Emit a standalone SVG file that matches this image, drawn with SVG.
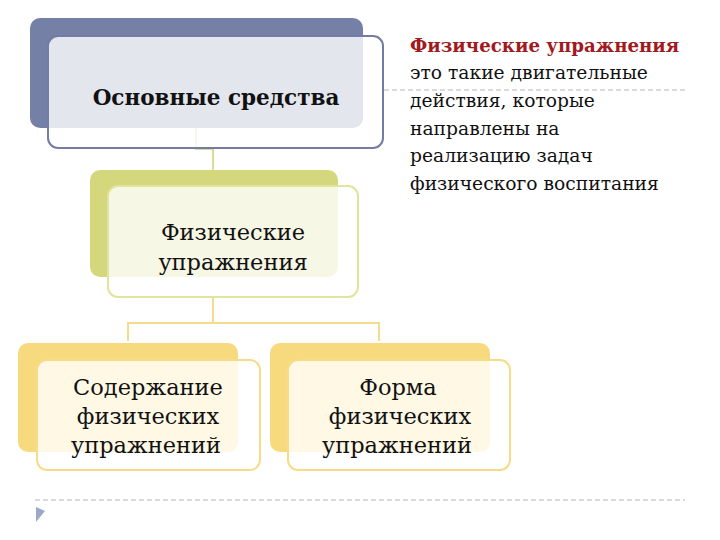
<svg xmlns="http://www.w3.org/2000/svg" width="720" height="540" viewBox="0 0 720 540">
<style>
.front{fill:#ffffff;fill-opacity:0.8;stroke-width:2}
.lbl{font-family:"DejaVu Serif","Liberation Serif",serif;font-size:22.5px;fill:#111111;text-anchor:middle}
.bold{font-weight:bold;font-size:21.5px}
.side{font-family:"DejaVu Serif","Liberation Serif",serif;font-size:18.7px;fill:#111111}
.red{fill:#a01a1e;font-weight:bold;font-size:18.2px}
.conn{fill:none;stroke-width:2}
</style>
<rect width="720" height="540" fill="#ffffff"/>
<g id="guides">
<line x1="384" y1="90" x2="685" y2="90" stroke="#b4b4b4" stroke-width="1" stroke-dasharray="5,3"/>
<line x1="35" y1="500" x2="685" y2="500" stroke="#b4b4b4" stroke-width="1" stroke-dasharray="5,3"/>
<polygon points="36,507 45,511 36,522" fill="#9aaac6"/>
</g>
<g id="connectors">
<path class="conn" d="M196,128 V149 H213 V170" stroke="#d9dc92"/>
<path class="conn" d="M213,297 V323 M128,341 V323 H379 V341" stroke="#f5dc8a"/>
</g>
<g id="node-main">
<rect x="30" y="18" width="333" height="110" rx="10" fill="#7580a6"/>
<rect class="front" x="48" y="36" width="335" height="112" rx="10" stroke="#737ca2"/>
<text class="lbl bold" x="216" y="105">Основные средства</text>
</g>
<g id="node-exercise">
<rect x="90" y="170" width="248" height="107" rx="10" fill="#d4d77c"/>
<rect class="front" x="108" y="186" width="250" height="111" rx="10" stroke="#e1e49c"/>
<text class="lbl" x="233" y="240">Физические</text>
<text class="lbl" x="233" y="270">упражнения</text>
</g>
<g id="node-content">
<rect x="18" y="343" width="220" height="109" rx="10" fill="#f8da7e"/>
<rect class="front" x="37" y="360" width="223" height="110" rx="10" stroke="#f6dc88"/>
<text class="lbl" x="148" y="395">Содержание</text>
<text class="lbl" x="148" y="424">физических</text>
<text class="lbl" x="146" y="453">упражнений</text>
</g>
<g id="node-form">
<rect x="270" y="343" width="220" height="109" rx="10" fill="#f8da7e"/>
<rect class="front" x="288" y="360" width="222" height="110" rx="10" stroke="#f6dc88"/>
<text class="lbl" x="398" y="395">Форма</text>
<text class="lbl" x="400" y="424">физических</text>
<text class="lbl" x="397" y="453">упражнений</text>
</g>
<g id="definition">
<text class="side red" x="410" y="52">Физические упражнения</text>
<text class="side" x="410" y="79">это такие двигательные</text>
<text class="side" x="410" y="107">действия, которые</text>
<text class="side" x="410" y="135">направлены на</text>
<text class="side" x="410" y="162">реализацию задач</text>
<text class="side" x="410" y="190">физического воспитания</text>
</g>
</svg>
